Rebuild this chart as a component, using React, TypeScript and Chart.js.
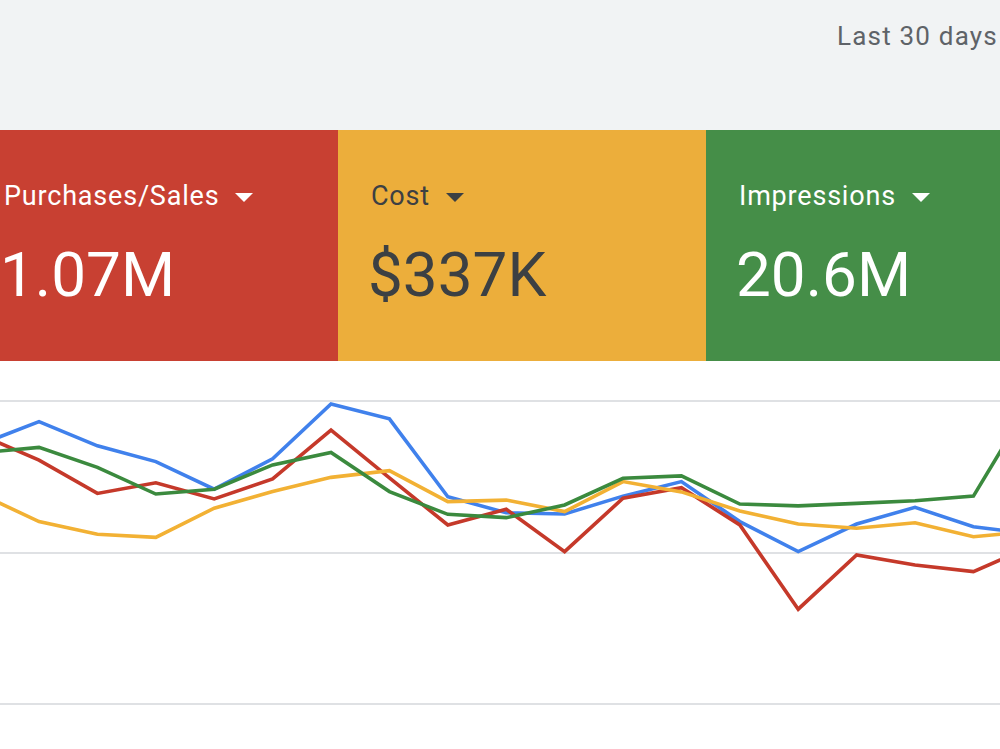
import React, { useEffect, useRef } from "react";
import { Chart, registerables } from "chart.js";

Chart.register(...registerables);

// Day index for each plotted point (the view shows days 1–17, with one neighbour on each side)
const days = [0, 1, 2, 3, 4, 5, 6, 7, 8, 9, 10, 11, 12, 13, 14, 15, 16, 17, 18];

// Relative metric values, normalised to the chart's 0–100 range
const clicks = [85.7, 93.2, 85.2, 80.0, 70.9, 80.9, 99.0, 94.1, 68.4, 63.1, 62.7, 68.6, 73.4, 60.2, 50.3, 59.4, 64.9, 58.5, 56.1];
const purchases = [88.8, 80.5, 69.5, 73.0, 67.7, 74.3, 90.4, 74.6, 59.1, 64.3, 50.3, 67.9, 71.4, 59.1, 31.3, 49.2, 45.9, 43.7, 52.1];
const cost = [69.3, 60.2, 56.0, 55.0, 64.6, 70.1, 74.8, 77.0, 66.8, 67.3, 63.5, 73.4, 70.0, 63.7, 59.4, 58.0, 59.8, 55.2, 57.0];
const impressions = [82.9, 84.7, 78.1, 69.3, 70.9, 78.9, 83.0, 70.1, 62.6, 61.5, 65.7, 74.5, 75.3, 66.0, 65.4, 66.2, 67.1, 68.6, 100.7];

const gridTicks = [0, 50, 100];

const tiles = [
  { label: "Purchases/Sales", value: "1.07M", bg: "#c84032", fg: "#ffffff", left: 0, width: 338 },
  { label: "Cost", value: "$337K", bg: "#ecae3b", fg: "#3c4043", left: 338, width: 368 },
  { label: "Impressions", value: "20.6M", bg: "#458e48", fg: "#ffffff", left: 706, width: 294 },
];

const pts = (vals: number[]) => days.map((d, i) => ({ x: d, y: vals[i] }));

function TrendChart() {
  const ref = useRef<HTMLCanvasElement | null>(null);
  useEffect(() => {
    if (!ref.current) return;
    const line = (label: string, vals: number[], color: string, order: number) => ({
      label,
      data: pts(vals),
      borderColor: color,
      backgroundColor: color,
      borderWidth: 3.6,
      pointRadius: 0,
      tension: 0,
      order,
    });
    const chart = new Chart(ref.current, {
      type: "line",
      data: {
        datasets: [
          line("Impressions", impressions, "#3b8a3e", 0),
          line("Cost", cost, "#f2b134", 1),
          line("Purchases/Sales", purchases, "#c5392a", 2),
          line("Clicks", clicks, "#4081ec", 3),
        ],
      },
      options: {
        animation: false,
        responsive: false,
        maintainAspectRatio: false,
        layout: { padding: { top: 11, bottom: 11, left: 0, right: 0 } },
        plugins: { legend: { display: false }, tooltip: { enabled: false } },
        scales: {
          x: {
            type: "linear",
            min: 0.332,
            max: 17.455,
            display: false,
          },
          y: {
            min: gridTicks[0],
            max: gridTicks[gridTicks.length - 1],
            afterFit: (s: any) => {
              s.width = 0;
            },
            afterBuildTicks: (s: any) => {
              s.ticks = gridTicks.map((v) => ({ value: v }));
            },
            ticks: { display: false },
            border: { display: false },
            grid: { color: "#dfe1e4", lineWidth: 2, drawTicks: false },
          },
        },
      },
    });
    return () => chart.destroy();
  }, []);
  return (
    <canvas
      ref={ref}
      width={1000}
      height={325}
      style={{ position: "absolute", left: 0, top: 390, width: 1000, height: 325 }}
    />
  );
}

export default function App() {
  return (
    <div
      style={{
        position: "absolute",
        left: 0,
        top: 0,
        width: 1000,
        height: 749,
        overflow: "hidden",
        background: "#ffffff",
        fontFamily: "Roboto, 'Noto Sans', sans-serif",
      }}
    >
      <div style={{ position: "absolute", left: 0, top: 0, width: 1000, height: 130, background: "#f1f3f4" }} />
      <div
        style={{
          position: "absolute",
          left: 837,
          top: 23,
          fontSize: 26,
          lineHeight: "26px",
          letterSpacing: 1.2,
          color: "#5f6368",
          whiteSpace: "nowrap",
        }}
      >
        Last 30 days
      </div>
      {tiles.map((t) => (
        <div
          key={t.label}
          style={{
            position: "absolute",
            left: t.left,
            top: 130,
            width: t.width,
            height: 231,
            background: t.bg,
            color: t.fg,
          }}
        >
          <div
            style={{
              position: "absolute",
              left: t.left === 0 ? 4 : 33,
              top: 53,
              fontSize: 27,
              lineHeight: "27px",
              letterSpacing: 0.8,
              whiteSpace: "nowrap",
              display: "flex",
              alignItems: "center",
            }}
          >
            <span>{t.label}</span>
            <span
              style={{
                display: "inline-block",
                width: 0,
                height: 0,
                marginLeft: 16,
                marginTop: 2,
                borderLeft: "9px solid transparent",
                borderRight: "9px solid transparent",
                borderTop: `9px solid ${t.fg}`,
              }}
            />
          </div>
          <div
            style={{
              position: "absolute",
              left: t.left === 0 ? 0 : 30,
              top: 114,
              fontSize: 62,
              lineHeight: "62px",
              whiteSpace: "nowrap",
            }}
          >
            {t.value}
          </div>
        </div>
      ))}
      <TrendChart />
    </div>
  );
}
